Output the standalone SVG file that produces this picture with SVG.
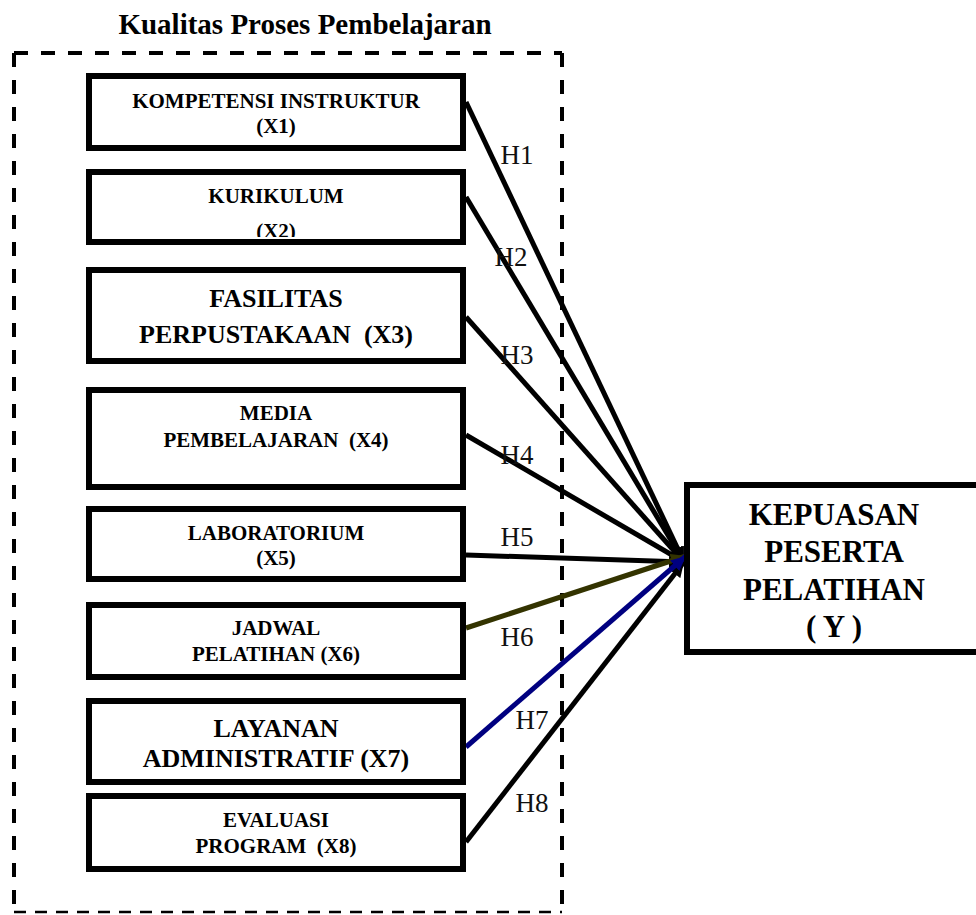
<svg xmlns="http://www.w3.org/2000/svg" width="976" height="915" viewBox="0 0 976 915">
<style>
.box{fill:#fff;stroke:#000;stroke-width:6}
.t{font-family:"Liberation Serif","Times New Roman",serif;font-weight:bold;fill:#000;text-anchor:middle;white-space:pre}
.s21{font-size:21px}
.s26{font-size:26px}
.s31{font-size:31px}
.h{font-family:"Liberation Serif","Times New Roman",serif;font-size:27px;fill:#111;text-anchor:middle}
.dash{fill:none;stroke:#000;stroke-width:4;stroke-dasharray:14 13}
.c{fill:none;stroke-width:5}
</style>
<defs>
<marker id="ak" markerUnits="userSpaceOnUse" markerWidth="16" markerHeight="14" refX="15" refY="7" orient="auto"><path d="M0,0 L15,7 L0,14 Z" fill="#000"/></marker>
<marker id="ao" markerUnits="userSpaceOnUse" markerWidth="16" markerHeight="14" refX="15" refY="7" orient="auto"><path d="M0,0 L15,7 L0,14 Z" fill="#333300"/></marker>
<marker id="ab" markerUnits="userSpaceOnUse" markerWidth="16" markerHeight="14" refX="15" refY="7" orient="auto"><path d="M0,0 L15,7 L0,14 Z" fill="#000080"/></marker>
<clipPath id="clipX2"><rect x="92" y="172" width="368" height="65"/></clipPath>
</defs>

<g id="group-frame">
<text class="t" x="305" y="34" style="font-size:29px">Kualitas Proses Pembelajaran</text>
<line class="dash" x1="14" y1="53" x2="562" y2="53"/>
<line class="dash" x1="14" y1="53" x2="14" y2="912"/>
<line class="dash" x1="562" y1="53" x2="562" y2="912"/>
<line x1="14" y1="912" x2="562" y2="912" stroke="#000" stroke-width="2.5" stroke-dasharray="12 9"/>
</g>

<g id="connectors">
<line class="c" stroke="#000" x1="466" y1="102" x2="684" y2="562" marker-end="url(#ak)"/>
<line class="c" stroke="#000" x1="466" y1="197" x2="684" y2="562" marker-end="url(#ak)"/>
<line class="c" stroke="#000" x1="466" y1="317" x2="684" y2="562" marker-end="url(#ak)"/>
<line class="c" stroke="#000" x1="466" y1="435" x2="684" y2="562" marker-end="url(#ak)"/>
<line class="c" stroke="#000" x1="466" y1="555" x2="684" y2="562" marker-end="url(#ak)"/>
<line class="c" stroke="#000" x1="466" y1="842" x2="684" y2="562" marker-end="url(#ak)"/>
<line class="c" stroke="#333300" x1="466" y1="628" x2="686" y2="556" marker-end="url(#ao)"/>
<line class="c" stroke="#000080" x1="466" y1="747" x2="686" y2="556" marker-end="url(#ab)"/>
<text class="h" x="517" y="164">H1</text>
<text class="h" x="511" y="266">H2</text>
<text class="h" x="517" y="364">H3</text>
<text class="h" x="517" y="464">H4</text>
<text class="h" x="517" y="546">H5</text>
<text class="h" x="517" y="646">H6</text>
<text class="h" x="532" y="729">H7</text>
<text class="h" x="532" y="812">H8</text>
</g>

<g id="node-x1">
<rect class="box" x="89" y="76" width="374" height="72"/>
<text class="t s21" x="276" y="108">KOMPETENSI INSTRUKTUR</text>
<text class="t s21" x="276" y="133">(X1)</text>
</g>
<g id="node-x2">
<rect class="box" x="89" y="172" width="374" height="70"/>
<text class="t s21" x="276" y="203">KURIKULUM</text>
<text class="t s21" x="276" y="238" clip-path="url(#clipX2)">(X2)</text>
</g>
<g id="node-x3">
<rect class="box" x="89" y="270" width="374" height="91"/>
<text class="t s26" x="276" y="307">FASILITAS</text>
<text class="t s26" x="276" y="343">PERPUSTAKAAN  (X3)</text>
</g>
<g id="node-x4">
<rect class="box" x="89" y="390" width="374" height="97"/>
<text class="t s21" x="276" y="420">MEDIA</text>
<text class="t s21" x="276" y="447">PEMBELAJARAN  (X4)</text>
</g>
<g id="node-x5">
<rect class="box" x="89" y="509" width="374" height="70"/>
<text class="t s21" x="276" y="540">LABORATORIUM</text>
<text class="t s21" x="276" y="565">(X5)</text>
</g>
<g id="node-x6">
<rect class="box" x="89" y="605" width="374" height="72"/>
<text class="t s21" x="276" y="635">JADWAL</text>
<text class="t s21" x="276" y="661">PELATIHAN (X6)</text>
</g>
<g id="node-x7">
<rect class="box" x="89" y="701" width="374" height="81"/>
<text class="t s26" x="276" y="737">LAYANAN</text>
<text class="t s26" x="276" y="767">ADMINISTRATIF (X7)</text>
</g>
<g id="node-x8">
<rect class="box" x="89" y="796" width="374" height="73"/>
<text class="t s21" x="276" y="827">EVALUASI</text>
<text class="t s21" x="276" y="853">PROGRAM  (X8)</text>
</g>
<g id="node-y">
<rect class="box" x="687" y="485" width="310" height="167"/>
<text class="t s31" x="834" y="525">KEPUASAN</text>
<text class="t s31" x="834" y="562">PESERTA</text>
<text class="t s31" x="834" y="600">PELATIHAN</text>
<text class="t s31" x="834" y="637">( Y )</text>
</g>
</svg>
